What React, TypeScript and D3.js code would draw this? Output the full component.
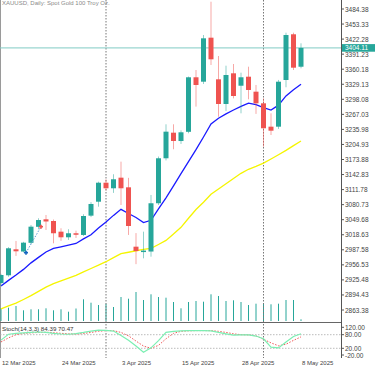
import React from "react";
import * as d3 from "d3";

const dates = [
  "2025-03-12","2025-03-13","2025-03-14","2025-03-17","2025-03-18","2025-03-19","2025-03-20","2025-03-21",
  "2025-03-24","2025-03-25","2025-03-26","2025-03-27","2025-03-28","2025-03-31",
  "2025-04-01","2025-04-02","2025-04-03","2025-04-04","2025-04-07","2025-04-08","2025-04-09","2025-04-10",
  "2025-04-11","2025-04-14","2025-04-15","2025-04-16","2025-04-17","2025-04-21","2025-04-22","2025-04-23",
  "2025-04-24","2025-04-25","2025-04-28","2025-04-29","2025-04-30",
  "2025-05-01","2025-05-02","2025-05-05","2025-05-06","2025-05-07","2025-05-08",
];
const opens = [2919,2935,2988.6,2984,3002,3035,3050.5,3047,3025,3013.4,3021.7,3018.2,3058,3086.8,3126,3114.5,3136.4,3116.5,2994,2983.7,2984,3083.6,3176.4,3229.2,3212,3231,3343.5,3334.4,3425.2,3339.3,3288.4,3351.7,3326.1,3344.7,3313.8,3289.8,3241.6,3241.6,3337.9,3432.2,3365.3];
const highs = [2938,2993,3005.8,3004,3038.8,3052.6,3059.4,3050,3032,3030,3027,3060.9,3086,3128.1,3133,3143.4,3169.4,3136,3022,3025,3100.7,3180,3246.5,3246.5,3234,3345,3358.5,3430.7,3499.4,3387.4,3367.4,3370.9,3353,3365.3,3327.6,3300,3269.2,3338,3435.5,3435.5,3413.6];
const lows = [2913,2932,2975,2982,2999,3030,3028.5,3001,3006,3008,3012,3016,3055,3076.5,3110,3105,3080,3018.2,2958,2970,2973.4,3080,3172,3195,3206,3228,3283,3329.7,3368.9,3262.2,3274,3300,3269.2,3298.1,3268,3200.3,3224.4,3237,3322.9,3358.5,3362];
const closes = [2935.6,2990.7,2984.5,3002.3,3035.3,3049,3046,3021.7,3013.4,3021.7,3019.6,3057.3,3082.1,3126,3114.5,3133.1,3114.5,3036.7,2985,2986,3083.6,3176.4,3231.3,3212.1,3230,3343.5,3327.6,3423.9,3380.6,3288.4,3348.2,3304.9,3343.5,3317.3,3289.8,3238.3,3233.3,3334.4,3430.7,3363.3,3404.11];
const volumes = [130,133,150,107,117,117,127,107,117,93,125,217,183,160,173,140,240,223,290,210,267,240,233,190,127,190,200,193,267,250,200,207,190,160,173,173,167,173,210,210,17];
const maFast = [2913,2924.5,2935.4,2947.2,2960.6,2972,2983,2990.3,2993.8,2997.3,3000.6,3010,3018.6,3032.5,3045,3058.6,3071,3062.5,3054.3,3043.7,3048.5,3072,3094.9,3119.6,3144.6,3169.4,3194.1,3220.3,3247.1,3259,3268,3276,3283.5,3290,3287,3281,3276,3286,3305,3317.6,3329];
const maSlow = [2865.9,2871.7,2877.5,2885.1,2893.1,2901.8,2910.5,2917.7,2923.5,2929.2,2935,2942,2949,2956,2963,2971.5,2979.6,2982.5,2985.6,2988.3,2990.5,2998.6,3007,3020.2,3034,3052.7,3070.7,3085.8,3102.2,3113,3123.8,3134.7,3145.4,3153.7,3159.7,3166.3,3175,3183.8,3192.7,3202.6,3212];
const stochK = [56,82,86,88,90,92,90,86,83,82,85,90,96,100,99,96,76,55,30,3,22,54,90,95,97,98,98,98,97,90,84,78,79,79,74,62,25,22,48,72,84.39];
const stochD = [48,66,80,86,88,90,91,89,86,84,83,85,90,95,98,98,90,75,52,30,20,33,62,86,95,97,98,98,98,95,90,84,80,79,75,60,44,31,38,55,70.47];

const priceTicks = [3484.38,3453.33,3422.28,3391.23,3360.18,3329.13,3298.08,3267.03,3235.98,3204.93,3173.88,3142.83,3111.78,3080.73,3049.68,3018.63,2987.58,2956.53,2925.48,2894.43,2863.38];
const stochTicks = [120, 80, 20, -20];
const stochLevels = [80, 20];
const dateTickLabels = ["12 Mar 2025","24 Mar 2025","3 Apr 2025","15 Apr 2025","28 Apr 2025","8 May 2025"];
const dateTickDates = ["2025-03-12","2025-03-24","2025-04-03","2025-04-15","2025-04-28","2025-05-08"];
const separatorDates = ["2025-04-01","2025-05-01"];
const currentPrice = 3404.11;
const tradeOpen = { date: "2025-03-17", price: 2981.6 };
const tradeClose = { date: "2025-03-19", price: 3035.3 };

const title = "XAUUSD, Daily:  Spot Gold 100 Troy Oz.";
const stochTitle = "Stoch(14,3,3) 84.39 70.47";

const FONT = "'Liberation Sans', Arial, sans-serif";

export default function App() {
  const W = 375, H = 366;
  const axisX = 341.5;
  const mainBottom = 321;
  const sepY = 322.5;
  const stochBottom = 358;

  const x = d3.scaleLinear().domain([0, dates.length - 1]).range([1, 301]);
  const y = d3.scaleLinear().domain([2863.38, 3484.38]).range([310, 9]);
  const yv = d3.scaleLinear().domain([0, 300]).range([mainBottom, 291]);
  const ys = d3.scaleLinear().domain([20, 80]).range([348.3, 334.7]);

  const bodyW = 5;
  const up = "#26a69a", down = "#ef5350";

  const lineFast = d3.line<number>().x((_, i) => x(i)).y(d => y(d));
  const lineK = d3.line<number>().x((_, i) => x(i)).y(d => ys(d));

  const idx = (d: string) => dates.indexOf(d);

  return (
    <svg width={W} height={H} style={{ position: "absolute", left: 0, top: 0, background: "#fff" }} fontFamily={FONT}>
      <rect x={0} y={0} width={W} height={H} fill="#fff" />
      {/* left border */}
      <line x1={0.5} x2={0.5} y1={0} y2={stochBottom} stroke="#9a9a9a" strokeWidth={1} />

      {/* volumes */}
      {volumes.map((v, i) => (
        <line key={"v" + i} x1={x(i)} x2={x(i)} y1={yv(0)} y2={yv(v)} stroke={up} strokeWidth={1} />
      ))}

      {/* month separators */}
      {separatorDates.map(d => (
        <line key={d} x1={x(idx(d))} x2={x(idx(d))} y1={0} y2={stochBottom} stroke="#777" strokeWidth={1} strokeDasharray="1.5,1.5" />
      ))}

      {/* current price line */}
      <line x1={0} x2={axisX} y1={y(currentPrice)} y2={y(currentPrice)} stroke="#80cbc4" strokeWidth={1} />

      {/* moving averages */}
      <path d={lineFast(maSlow) || ""} fill="none" stroke="#f5f500" strokeWidth={1.3} />
      <path d={lineFast(maFast) || ""} fill="none" stroke="#1a1aff" strokeWidth={1.3} />

      {/* candles */}
      {dates.map((d, i) => {
        const o = opens[i], c = closes[i];
        const bull = c >= o;
        const col = bull ? up : down;
        const top = y(Math.max(o, c)), bot = y(Math.min(o, c));
        return (
          <g key={d}>
            <line x1={x(i)} x2={x(i)} y1={y(highs[i])} y2={y(lows[i])} stroke={col} strokeOpacity={0.5} strokeWidth={1} />
            <rect x={x(i) - bodyW / 2} y={top} width={bodyW} height={Math.max(1.5, bot - top)} fill={col} />
          </g>
        );
      })}

      {/* trade markers */}
      <line x1={x(idx(tradeOpen.date)) + 2.5} y1={y(tradeOpen.price)} x2={x(idx(tradeClose.date)) + 2.5} y2={y(tradeClose.price)}
        stroke="#5b9bd5" strokeWidth={1} strokeDasharray="1.5,1.5" />
      <g stroke="#1565c0" strokeWidth={1.6}>
        <line x1={x(idx(tradeOpen.date)) + 0.5} x2={x(idx(tradeOpen.date)) + 4.5} y1={y(tradeOpen.price)} y2={y(tradeOpen.price)} />
        <line x1={x(idx(tradeOpen.date)) + 2.5} x2={x(idx(tradeOpen.date)) + 2.5} y1={y(tradeOpen.price) - 2} y2={y(tradeOpen.price) + 2} />
      </g>
      <g stroke="#ef5350" strokeWidth={1.6}>
        <line x1={x(idx(tradeClose.date)) + 0.5} x2={x(idx(tradeClose.date)) + 4.5} y1={y(tradeClose.price)} y2={y(tradeClose.price)} />
        <line x1={x(idx(tradeClose.date)) + 2.5} x2={x(idx(tradeClose.date)) + 2.5} y1={y(tradeClose.price) - 2} y2={y(tradeClose.price) + 2} />
      </g>

      {/* title */}
      <text x={2} y={5} fontSize={6} fill="#8a8a8a">{title}</text>

      {/* separator between panels */}
      <line x1={0} x2={axisX} y1={sepY} y2={sepY} stroke="#666" strokeWidth={1} />

      {/* stoch panel */}
      {stochLevels.map(l => (
        <line key={"l" + l} x1={0} x2={axisX} y1={ys(l)} y2={ys(l)} stroke="#aaa" strokeWidth={0.8} strokeDasharray="1.5,1.5" />
      ))}
      <path d={lineK(stochD) || ""} fill="none" stroke="#f05a5a" strokeWidth={1} strokeDasharray="1.5,1.5" />
      <path d={lineK(stochK) || ""} fill="none" stroke="#7befb2" strokeWidth={1.2} />
      <text x={2} y={331} fontSize={6.2} fill="#333">{stochTitle}</text>

      {/* right axis */}
      <line x1={axisX} x2={axisX} y1={0} y2={stochBottom} stroke="#555" strokeWidth={1} />
      {priceTicks.map(p => (
        <g key={"p" + p}>
          <line x1={axisX} x2={axisX + 2.5} y1={y(p)} y2={y(p)} stroke="#555" strokeWidth={1} />
          <text x={axisX + 3.5} y={y(p)} dominantBaseline="central" fontSize={6.5} fill="#444">{p.toFixed(2)}</text>
        </g>
      ))}
      <rect x={axisX + 0.5} y={y(currentPrice) - 3.8} width={W - axisX} height={7.6} fill="#26a69a" />
      <text x={axisX + 3.5} y={y(currentPrice)} dominantBaseline="central" fontSize={6.5} fill="#fff">{currentPrice.toFixed(2)}</text>
      {stochTicks.map(v => {
        const cy = Math.min(355, Math.max(327.3, ys(v)));
        return (
          <g key={"s" + v}>
            <line x1={axisX} x2={axisX + 2.5} y1={cy} y2={cy} stroke="#555" strokeWidth={1} />
            <text x={axisX + 3.5} y={cy} dominantBaseline="central" fontSize={6.5} fill="#444">{v.toFixed(2)}</text>
          </g>
        );
      })}

      {/* date axis */}
      {dateTickLabels.map((t, k) => (
        <text key={t} x={x(idx(dateTickDates[k])) + 1} y={364.5} fontSize={6} fill="#444">{t}</text>
      ))}
    </svg>
  );
}
